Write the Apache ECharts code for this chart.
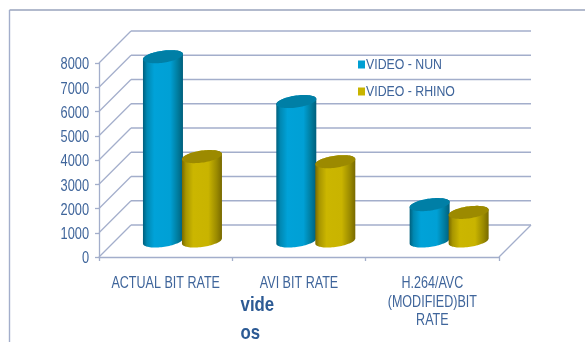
<!DOCTYPE html>
<html><head><meta charset="utf-8">
<style>html,body{margin:0;padding:0;background:#fff}#c{width:585px;height:342px}</style>
<script src="https://cdn.jsdelivr.net/npm/echarts@6/dist/echarts.min.js"></script>
</head><body><div id="c"></div>
<script>
const categories = ['ACTUAL BIT RATE', 'AVI BIT RATE', 'H.264/AVC\n(MODIFIED)BIT\nRATE'];
const nunValues = [7600, 5750, 1500];
const rhinoValues = [3480, 3270, 1180];
const yTicks = [0, 1000, 2000, 3000, 4000, 5000, 6000, 7000, 8000];
const axisTitle = 'vide\nos';

const DEPTH = 32, RX = 20, RY = 6, TILT = 2.6, BAR_OFFSET = 19.5, BAR_SHIFT = 0.8;
const LINE = '#a3aecb', TEXT = '#3f659b';
const FONT = '"Liberation Sans",Arial,sans-serif';
const TEXT_SQUEEZE = 0.8, Y_LABEL_DROP = 2;
const chart = echarts.init(document.getElementById('c'), null, {renderer: 'canvas'});

function ellipsePoint(cx, cy, t) {
  return [cx + RX * Math.cos(t), cy + RY * Math.sin(t) - TILT * Math.cos(t)];
}
function gradient(stops) {
  return {type: 'linear', x: 0, y: 0, x2: 1, y2: 0,
    colorStops: stops.map(s => ({offset: s[0], color: s[1]}))};
}
function cylinder(side, stops, topColor) {
  return function (params, api) {
    const cat = api.value(0), val = api.value(1);
    const centre = api.coord([cat, 0])[0] + DEPTH / 2 + side * BAR_OFFSET + BAR_SHIFT;
    const baseY = api.coord([cat, 0])[1] - DEPTH / 2;
    const topY = api.coord([cat, val])[1] - DEPTH / 2;
    const body = [], top = [];
    for (let i = 0; i <= 40; i++) body.push(ellipsePoint(centre, baseY, Math.PI - Math.PI * i / 40));
    body.push(ellipsePoint(centre, topY, 0));
    for (let i = 0; i <= 40; i++) body.push(ellipsePoint(centre, topY, -Math.PI * i / 40));
    for (let i = 0; i < 80; i++) top.push(ellipsePoint(centre, topY, Math.PI * 2 * i / 80));
    return {type: 'group', children: [
      {type: 'polygon', shape: {points: body}, style: {fill: gradient(stops)}},
      {type: 'polygon', shape: {points: top}, style: {fill: topColor}}
    ]};
  };
}
function walls(params, api) {
  const v = api.value(0), sys = params.coordSys;
  const y = api.coord([0, v])[1];
  const style = {stroke: LINE, lineWidth: 1.3, fill: null};
  const kids = [
    {type: 'line', shape: {x1: sys.x, y1: y, x2: sys.x + DEPTH, y2: y - DEPTH}, style},
    {type: 'line', shape: {x1: sys.x + DEPTH, y1: y - DEPTH, x2: sys.x + sys.width + DEPTH, y2: y - DEPTH}, style}
  ];
  if (v === 0) kids.push({type: 'line', shape: {x1: sys.x + sys.width, y1: y, x2: sys.x + sys.width + DEPTH, y2: y - DEPTH}, style});
  return {type: 'group', children: kids};
}
const toPairs = arr => arr.map((v, i) => [i, v]);

chart.setOption({
  animation: false,
  backgroundColor: '#fff',
  textStyle: {fontFamily: FONT},
  grid: {left: 99, right: 86, top: 63, bottom: 85, outerBoundsMode: 'none'},
  legend: {
    orient: 'vertical', left: 353, top: 52, itemWidth: 7, itemHeight: 8, itemGap: 12,
    icon: 'rect', data: ['VIDEO - NUN', 'VIDEO - RHINO'],
    textStyle: {color: TEXT, fontFamily: FONT, fontSize: 15.4, padding: [0, 0, 0, -2]}
  },
  xAxis: {
    type: 'category', data: categories, boundaryGap: true,
    axisLine: {lineStyle: {color: LINE, width: 1.3}},
    axisTick: {show: true, length: 4, lineStyle: {color: LINE, width: 1.3}},
    axisLabel: {color: TEXT, fontFamily: FONT, fontSize: 15.7, lineHeight: 18.5, margin: 17.5, interval: 0, hideOverlap: false},
    name: axisTitle, nameLocation: 'middle', nameGap: 34, nameMoveOverlap: false,
    nameTextStyle: {color: '#2c5a94', fontFamily: FONT, fontSize: 21, fontWeight: 'bold', lineHeight: 28, align: 'left', verticalAlign: 'top', padding: [0, 0, 0, -73]}
  },
  yAxis: {
    type: 'value', min: 0, max: 8000, interval: 1000,
    axisLine: {show: true, lineStyle: {color: LINE, width: 1.3}},
    axisTick: {show: true, length: 4, lineStyle: {color: LINE, width: 1.3}},
    axisLabel: {color: TEXT, fontFamily: FONT, fontSize: 16, margin: 10, formatter: v => String(v)},
    splitLine: {show: false}
  },
  graphic: [
    {type: 'line', silent: true, z: -1, shape: {x1: 9.5, y1: 10, x2: 585, y2: 10}, style: {stroke: '#98a3bd', lineWidth: 1.4}},
    {type: 'line', silent: true, z: -1, shape: {x1: 9.5, y1: 10, x2: 9.5, y2: 342}, style: {stroke: '#a3aecb', lineWidth: 1.4}}
  ],
  series: [
    {name: 'walls', type: 'custom', coordinateSystem: 'cartesian2d', clip: false, silent: true, z: 1,
     encode: {y: 0}, data: yTicks.map(v => [v]), renderItem: walls},
    {name: 'VIDEO - NUN', type: 'custom', coordinateSystem: 'cartesian2d', clip: false, z: 2,
     itemStyle: {color: '#009fd3'}, encode: {x: 0, y: 1}, data: toPairs(nunValues),
     renderItem: cylinder(-1, [[0, '#005f7c'], [0.1, '#0088b2'], [0.28, '#00a2d8'], [0.68, '#00a0d5'], [0.87, '#007c9e'], [1, '#005f7c']], '#007fa6')},
    {name: 'VIDEO - RHINO', type: 'custom', coordinateSystem: 'cartesian2d', clip: false, z: 3,
     itemStyle: {color: '#c8b400'}, encode: {x: 0, y: 1}, data: toPairs(rhinoValues),
     renderItem: cylinder(1, [[0, '#786900'], [0.1, '#a89600'], [0.28, '#cbb600'], [0.66, '#c9b400'], [0.87, '#9a8a00'], [1, '#786900']], '#9c8a00')}
  ]
});
// The reference's lettering is condensed: squeeze each text horizontally around its anchor.
const zr = chart.getZr();
zr.storage.getDisplayList(true).forEach(function (el) {
  if (el.type === 'tspan' && el.parent) {
    el.parent.scaleX = TEXT_SQUEEZE;
    if (/^\d+$/.test(el.style.text)) el.parent.y += Y_LABEL_DROP;
    el.parent.markRedraw();
  }
});
zr.flush();
</script></body></html>
